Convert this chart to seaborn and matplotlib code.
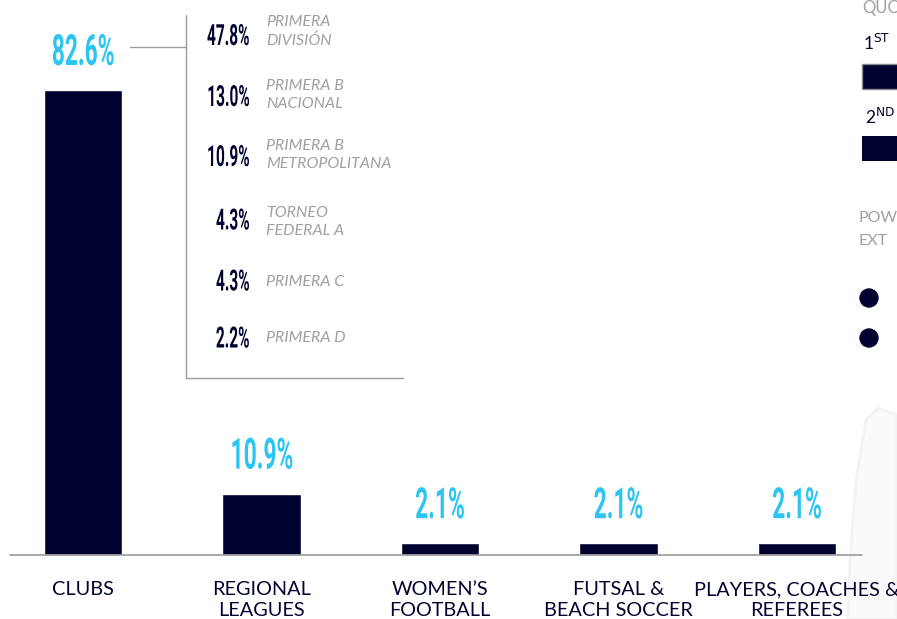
import numpy as np
import pandas as pd
import matplotlib
import matplotlib.pyplot as plt
import seaborn as sns
from matplotlib.patches import Rectangle, Circle, Polygon
from matplotlib.patheffects import AbstractPathEffect
from matplotlib.transforms import Affine2D

categories = ["CLUBS", "REGIONAL\nLEAGUES", "WOMEN’S\nFOOTBALL",
              "FUTSAL &\nBEACH SOCCER", "PLAYERS, COACHES &\nREFEREES"]
shares = [82.6, 10.9, 2.1, 2.1, 2.1]

club_divisions = ["PRIMERA\nDIVISIÓN", "PRIMERA B\nNACIONAL", "PRIMERA B\nMETROPOLITANA",
                  "TORNEO\nFEDERAL A", "PRIMERA C", "PRIMERA D"]
club_shares = [47.8, 13.0, 10.9, 4.3, 4.3, 2.2]

NAVY = "#020230"
CYAN = "#2bc4f3"
GREY = "#a0a0a0"


class Narrow(AbstractPathEffect):
    """Squash glyphs sideways to mimic a condensed display face."""

    def __init__(self, sx=0.53, anchor="center"):
        super().__init__()
        self.sx = sx
        self.anchor = anchor

    def draw_path(self, renderer, gc, tpath, affine, rgbFace=None):
        bb = tpath.get_extents()
        c = {"center": (bb.x0 + bb.x1) / 2, "right": bb.x1, "left": bb.x0}[self.anchor]
        t = Affine2D().translate(-c, 0).scale(self.sx, 1).translate(c, 0) + affine
        renderer.draw_path(gc, tpath, t, rgbFace)


sns.set_theme(style="white")
plt.rcParams["font.family"] = ["Lato", "DejaVu Sans"]

df = pd.DataFrame({"category": categories, "share": shares})

fig = plt.figure(figsize=(8.97, 6.19), dpi=100)
ax = fig.add_axes([0, 64 / 619, 1, 555 / 619])
sns.barplot(data=df, x="category", y="share", order=categories, color=NAVY,
            saturation=1, width=0.437, ax=ax, zorder=3)
ax.set_xlim(-83 / 178.5, (897 - 83) / 178.5)
ax.set_ylim(0, 555 / (465 / 82.6))
sns.despine(ax=ax, left=True, bottom=True, top=True, right=True)
ax.set_facecolor("none")
ax.set_yticks([])
ax.set_xlabel("")
ax.set_ylabel("")
ax.axhline(0, xmin=10 / 897, xmax=862 / 897, color="#9b9b9b", lw=1.2,
           clip_on=False, zorder=4)
ax.tick_params(axis="x", length=0, pad=19, labelsize=14.3, labelcolor=NAVY)
for lab in ax.get_xticklabels():
    lab.set_linespacing(1.27)

# cyan value labels above the bars
for i, v in enumerate(shares):
    ax.annotate(f"{v:.1f}%", (i, v), xytext=(0, 18), textcoords="offset points",
                ha="center", va="baseline", color=CYAN, fontsize=31,
                fontweight="bold", family="Roboto", path_effects=[Narrow(0.53)])

# faint watermark behind the chart
bg = fig.add_axes([0, 0, 1, 1], facecolor="none", zorder=-1)
bg.set_xlim(0, 897)
bg.set_ylim(619, 0)
bg.axis("off")
bg.add_patch(Polygon([(866, 420), (878, 408), (897, 415), (897, 619), (848, 619),
                      (850, 560), (856, 480)], closed=True,
                     facecolor="#fafafa", edgecolor="#f3f3f3", lw=2))
ax.set_zorder(1)

# overlay in pixel coordinates (y down)
ov = fig.add_axes([0, 0, 1, 1], facecolor="none", zorder=5)
ov.set_xlim(0, 897)
ov.set_ylim(619, 0)
ov.axis("off")

# breakdown of the clubs share
ov.plot([130, 186], [47, 47], color="#9b9b9b", lw=1)
ov.plot([186, 186, 403], [15, 378, 378], color="#9b9b9b", lw=1)

value_y = [34.5, 95.5, 155.5, 219, 280, 337]
label_y = [31.5, 95, 155, 222, 282, 337.5]
for vy, ly, v, name in zip(value_y, label_y, club_shares, club_divisions):
    ov.text(250, vy + 10.5, f"{v:.1f}%", ha="right", va="baseline", color=NAVY,
            fontsize=21, fontweight="bold", family="Roboto",
            path_effects=[Narrow(0.53, "right")])
    ov.text(266, ly, name, ha="left", va="center", color=GREY,
            fontsize=11.5, style="italic", linespacing=1.45)

# right-hand legend, cut off by the frame
ov.text(862, 8, "QUO", ha="left", va="center", color=GREY, fontsize=12)
ov.text(863, 43, "1$^{\\mathrm{ST}}$", ha="left", va="center", color=NAVY, fontsize=12.5)
ov.add_patch(Rectangle((862, 64), 40, 25, facecolor=NAVY, edgecolor="#8a8a8a", lw=1))
ov.text(865, 117, "2$^{\\mathrm{ND}}$", ha="left", va="center", color=NAVY, fontsize=12.5)
ov.add_patch(Rectangle((862, 136), 40, 25, facecolor=NAVY, edgecolor="none"))
ov.text(859, 218, "POW", ha="left", va="center", color=GREY, fontsize=11.5)
ov.text(859, 241, "EXT", ha="left", va="center", color=GREY, fontsize=11.5)
ov.add_patch(Circle((869, 298), 9, color=NAVY))
ov.add_patch(Circle((869, 338), 9, color=NAVY))

fig.savefig("out.png", dpi=100)
